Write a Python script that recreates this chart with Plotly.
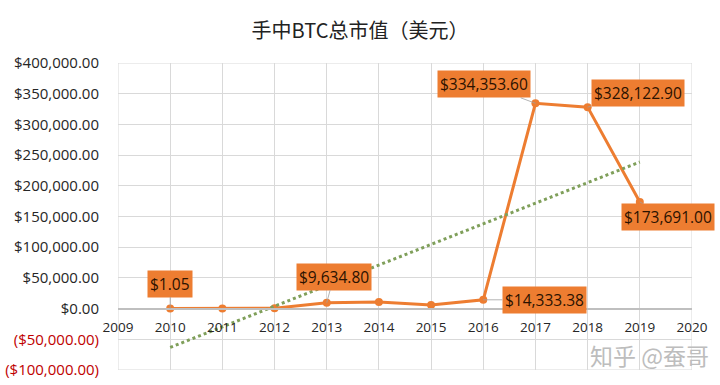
import numpy as np
import plotly.graph_objects as go

years = [2010, 2011, 2012, 2013, 2014, 2015, 2016, 2017, 2018, 2019]
values = [1.05, 300, 500, 9634.80, 10800, 5800, 14333.38, 334353.60, 328122.90, 173691.00]
label_years = [2010, 2013, 2016, 2017, 2018, 2019]
label_texts = ["$1.05", "$9,634.80", "$14,333.38", "$334,353.60", "$328,122.90", "$173,691.00"]
label_offsets = [(0, -25), (7, -26), (61, 0), (-51, -19), (50, -14), (28, 15)]
ytick_vals = [-100000, -50000, 0, 50000, 100000, 150000, 200000, 250000, 300000, 350000, 400000]
xtick_vals = list(range(2009, 2021))

def fmt(v):
    s = "${:,.2f}".format(abs(v))
    if v < 0:
        return '<span style="color:#C00000">(' + s + ')</span>'
    return s

ytick_text = [fmt(v) for v in ytick_vals]

slope, intercept = np.polyfit(years, values, 1)
trend = [slope * x + intercept for x in years]

fig = go.Figure()
fig.add_trace(go.Scatter(x=years, y=values, mode="lines+markers",
                         line=dict(color="#ED7D31", width=3),
                         marker=dict(color="#ED7D31", size=8),
                         showlegend=False))
fig.add_trace(go.Scatter(x=years, y=trend, mode="lines",
                         line=dict(color="#7F9F5A", width=3, dash="dot"),
                         hoverinfo="skip", showlegend=False))

vals_by_year = dict(zip(years, values))
for yr, txt, (ax, ay) in zip(label_years, label_texts, label_offsets):
    fig.add_annotation(x=yr, y=vals_by_year[yr], text=txt, xref="x", yref="y",
                       showarrow=True, arrowhead=0, arrowwidth=0.8, arrowcolor="#A0A0A0",
                       ax=ax, ay=ay, bgcolor="#ED7D31", borderpad=2,
                       font=dict(family="Open Sans, Noto Sans", size=15.5, color="#2b1200"))

pw, ph = 720 - 118 - 28, 385 - 63 - 15
fig.add_annotation(x=(649 - 118) / pw, y=(385 - 355 - 15) / ph, xref="paper", yref="paper",
                   text="知乎 @蚕哥", showarrow=False, xanchor="center", yanchor="middle",
                   font=dict(family="Noto Sans CJK SC", size=23, color="#BDBDBD"))

fig.update_layout(
    width=720, height=385,
    margin=dict(l=118, r=28, t=63, b=15),
    paper_bgcolor="white", plot_bgcolor="white",
    title=dict(text="手中BTC总市值（美元）", x=0.5, xanchor="center", y=0.92, yanchor="middle",
               font=dict(family="Noto Sans CJK SC", size=20, color="#222222")),
    xaxis=dict(range=[2009, 2020], tickvals=xtick_vals, ticktext=[str(v) for v in xtick_vals],
               showgrid=True, gridcolor="#D9D9D9", gridwidth=1, automargin=False,
               anchor="free", position=0.2, showline=True, linecolor="#BFBFBF", linewidth=1.5,
               ticks="outside", ticklen=6, tickcolor="rgba(0,0,0,0)", zeroline=False,
               tickfont=dict(family="Open Sans, Noto Sans", size=13.5, color="#262626")),
    yaxis=dict(range=[-100000, 400000], tickvals=ytick_vals, ticktext=ytick_text,
               showgrid=True, gridcolor="#D9D9D9", gridwidth=1, zeroline=False, automargin=False,
               showline=False, ticks="outside", ticklen=15, tickcolor="rgba(0,0,0,0)",
               tickfont=dict(family="Open Sans, Noto Sans", size=15, color="#262626")),
)
fig.add_shape(type="rect", xref="x", yref="y", x0=2009, x1=2020, y0=-100000, y1=400000,
              line=dict(color="#D9D9D9", width=1), layer="below")
fig.write_html("out.html")
